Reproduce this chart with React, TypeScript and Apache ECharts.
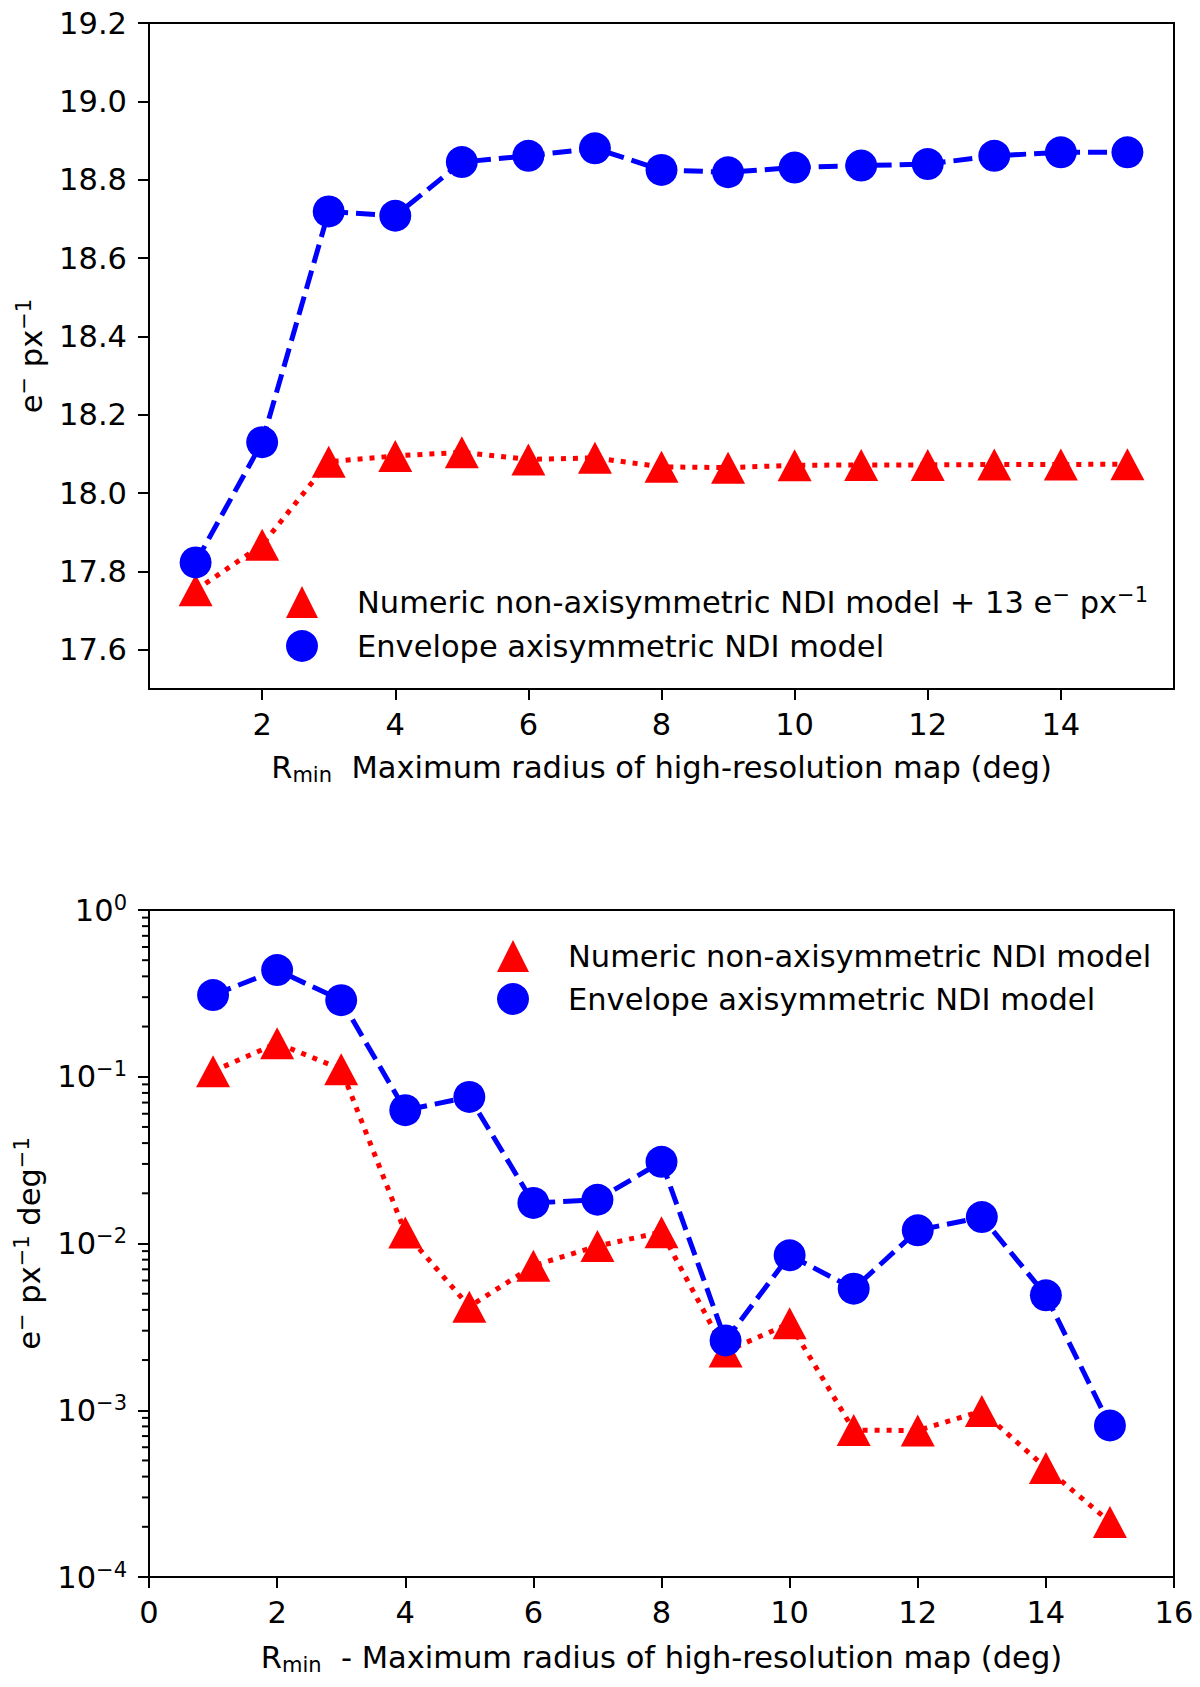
import React, { useEffect, useRef } from "react";
import * as echarts from "echarts";

const radius = [1, 2, 3, 4, 5, 6, 7, 8, 9, 10, 11, 12, 13, 14, 15];
const topNumeric = [17.752, 17.868, 18.08, 18.095, 18.104, 18.086, 18.09, 18.067, 18.065, 18.071, 18.072, 18.072, 18.073, 18.073, 18.074];
const topEnvelope = [17.823, 18.13, 18.719, 18.708, 18.845, 18.861, 18.88, 18.825, 18.819, 18.831, 18.836, 18.84, 18.861, 18.87, 18.87];
const bottomNumeric = [0.108, 0.159, 0.111, 0.01164, 0.00418, 0.00735, 0.00965, 0.0117, 0.00225, 0.00332, 0.00076, 0.000756, 0.00099, 0.000451, 0.000214];
const bottomEnvelope = [0.309, 0.436, 0.288, 0.063, 0.0757, 0.0175, 0.0183, 0.0309, 0.00262, 0.0085, 0.00536, 0.012, 0.0144, 0.00489, 0.00081];

const topXTicks = [2, 4, 6, 8, 10, 12, 14];
const topYTicks = [17.6, 17.8, 18.0, 18.2, 18.4, 18.6, 18.8, 19.0, 19.2];
const logMinorTicks = [
  2e-4, 3e-4, 4e-4, 5e-4, 6e-4, 7e-4, 8e-4, 9e-4,
  2e-3, 3e-3, 4e-3, 5e-3, 6e-3, 7e-3, 8e-3, 9e-3,
  2e-2, 3e-2, 4e-2, 5e-2, 6e-2, 7e-2, 8e-2, 9e-2,
  0.2, 0.3, 0.4, 0.5, 0.6, 0.7, 0.8, 0.9,
];

const NAME_NUMERIC = "Numeric non-axisymmetric NDI model";
const NAME_ENVELOPE = "Envelope axisymmetric NDI model";
const NAME_NUMERIC_TOP = "Numeric non-axisymmetric NDI model + 13 e⁻ px⁻¹";
const NAME_ENVELOPE_TOP = "Envelope axisymmetric NDI model ";

const FONT = "DejaVu Sans";
const FS = 30.5;
const BLUE = "#0000ff";
const RED = "#ff0000";

const richSup = {
  b: { fontFamily: FONT, fontSize: FS, color: "#000", lineHeight: 36 },
  s: { fontFamily: FONT, fontSize: 21, color: "#000", lineHeight: 22, verticalAlign: "top" },
  sub: { fontFamily: FONT, fontSize: 21, color: "#000", lineHeight: 22, verticalAlign: "bottom" },
};

export default function App() {
  const ref = useRef<HTMLDivElement>(null);

  useEffect(() => {
    if (!ref.current) return;
    const chart = echarts.init(ref.current, null, { renderer: "svg" });

    const axisLineStyle = { show: true, lineStyle: { color: "#000", width: 2 } };
    const tickStyle = { show: true, length: 11, lineStyle: { color: "#000", width: 2 } };
    const labelStyle = { color: "#000", fontFamily: FONT, fontSize: FS };

    const logLabel = (v: number) => {
      const e = Math.round(Math.log10(v));
      const sup = e === 0 ? "0" : "−" + String(-e);
      return `{b|10}{s|${sup}}`;
    };

    const option: any = {
      animation: false,
      backgroundColor: "#fff",
      textStyle: { fontFamily: FONT },
      grid: [
        { left: 149, top: 23, width: 1025, height: 666, show: true, borderColor: "#000", borderWidth: 2, backgroundColor: "transparent" },
        { left: 149, top: 910, width: 1025, height: 667, show: true, borderColor: "#000", borderWidth: 2, backgroundColor: "transparent" },
      ],
      legend: [
        {
          orient: "vertical",
          left: 281,
          top: 579,
          itemWidth: 32,
          itemHeight: 32,
          itemGap: 12,
          data: [
            { name: NAME_NUMERIC_TOP, icon: "triangle" },
            { name: NAME_ENVELOPE_TOP, icon: "circle" },
          ],
          formatter: (n: string) =>
            n === NAME_NUMERIC_TOP
              ? "{b|Numeric non-axisymmetric NDI model + 13 e}{s|−}{b| px}{s|−1}"
              : "{b|Envelope axisymmetric NDI model}",
          textStyle: { ...labelStyle, padding: [0, 0, 0, 34], rich: richSup },
          selectedMode: false,
        },
        {
          orient: "vertical",
          left: 492,
          top: 935,
          itemWidth: 32,
          itemHeight: 32,
          itemGap: 11,
          data: [
            { name: NAME_NUMERIC, icon: "triangle" },
            { name: NAME_ENVELOPE, icon: "circle" },
          ],
          textStyle: { ...labelStyle, padding: [0, 0, 0, 34] },
          selectedMode: false,
        },
      ],
      xAxis: [
        {
          type: "value",
          gridIndex: 0,
          min: 0.3,
          max: 15.7,
          axisLine: axisLineStyle,
          axisTick: { ...tickStyle, customValues: topXTicks },
          axisLabel: { ...labelStyle, margin: 20, customValues: topXTicks },
          splitLine: { show: false },
          name: "{b|R}{sub|min}{b|  Maximum radius of high-resolution map (deg)}",
          nameLocation: "middle",
          nameGap: 60,
          nameTextStyle: { rich: richSup },
        },
        {
          type: "value",
          gridIndex: 1,
          min: 0,
          max: 16,
          interval: 2,
          axisLine: axisLineStyle,
          axisTick: tickStyle,
          axisLabel: { ...labelStyle, margin: 20 },
          splitLine: { show: false },
          name: "{b|R}{sub|min}{b|  - Maximum radius of high-resolution map (deg)}",
          nameLocation: "middle",
          nameGap: 62,
          nameTextStyle: { rich: richSup },
        },
      ],
      yAxis: [
        {
          type: "value",
          gridIndex: 0,
          min: 17.5,
          max: 19.2,
          axisLine: axisLineStyle,
          axisTick: { ...tickStyle, customValues: topYTicks },
          axisLabel: { ...labelStyle, margin: 22, customValues: topYTicks, formatter: (v: number) => v.toFixed(1) },
          splitLine: { show: false },
          name: "{b|e}{s|−}{b| px}{s|−1}",
          nameLocation: "middle",
          nameGap: 100,
          nameTextStyle: { rich: richSup },
        },
        {
          type: "log",
          logBase: 10,
          gridIndex: 1,
          min: 1e-4,
          max: 1,
          interval: 1,
          axisLine: axisLineStyle,
          axisTick: tickStyle,
          axisLabel: { ...labelStyle, margin: 22, formatter: logLabel, rich: richSup },
          splitLine: { show: false },
          minorTick: { show: false },
          name: "{b|e}{s|−}{b| px}{s|−1}{b| deg}{s|−1}",
          nameLocation: "middle",
          nameGap: 102,
          nameTextStyle: { rich: richSup },
        },
      ],
      series: [
        {
          name: NAME_NUMERIC_TOP,
          type: "line",
          xAxisIndex: 0,
          yAxisIndex: 0,
          data: radius.map((r, i) => [r, topNumeric[i]]),
          symbol: "triangle",
          symbolSize: [34, 32],
          color: RED,
          itemStyle: { color: RED },
          lineStyle: { color: RED, width: 5, type: [5, 7] },
          silent: true,
        },
        {
          name: NAME_ENVELOPE_TOP,
          type: "line",
          xAxisIndex: 0,
          yAxisIndex: 0,
          data: radius.map((r, i) => [r, topEnvelope[i]]),
          symbol: "circle",
          symbolSize: 32,
          color: BLUE,
          itemStyle: { color: BLUE },
          lineStyle: { color: BLUE, width: 5, type: [19, 8] },
          silent: true,
        },
        {
          name: NAME_NUMERIC,
          type: "line",
          xAxisIndex: 1,
          yAxisIndex: 1,
          data: radius.map((r, i) => [r, bottomNumeric[i]]),
          symbol: "triangle",
          symbolSize: [34, 32],
          color: RED,
          itemStyle: { color: RED },
          lineStyle: { color: RED, width: 5, type: [5, 7] },
          silent: true,
        },
        {
          name: NAME_ENVELOPE,
          type: "line",
          xAxisIndex: 1,
          yAxisIndex: 1,
          data: radius.map((r, i) => [r, bottomEnvelope[i]]),
          symbol: "circle",
          symbolSize: 32,
          color: BLUE,
          itemStyle: { color: BLUE },
          lineStyle: { color: BLUE, width: 5, type: [19, 8] },
          silent: true,
        },
        {
          type: "custom",
          xAxisIndex: 1,
          yAxisIndex: 1,
          clip: false,
          silent: true,
          data: logMinorTicks.map((v) => [0, v]),
          renderItem: (params: any, api: any) => {
            const p = api.coord([0, api.value(1)]);
            return {
              type: "line",
              shape: { x1: p[0] - 7, y1: p[1], x2: p[0], y2: p[1] },
              style: { stroke: "#000", lineWidth: 2 },
            };
          },
        },
      ],
    };

    chart.setOption(option);
    return () => chart.dispose();
  }, []);

  return (
    <div
      ref={ref}
      style={{ position: "absolute", left: 0, top: 0, width: 1200, height: 1687, background: "#fff" }}
    />
  );
}
